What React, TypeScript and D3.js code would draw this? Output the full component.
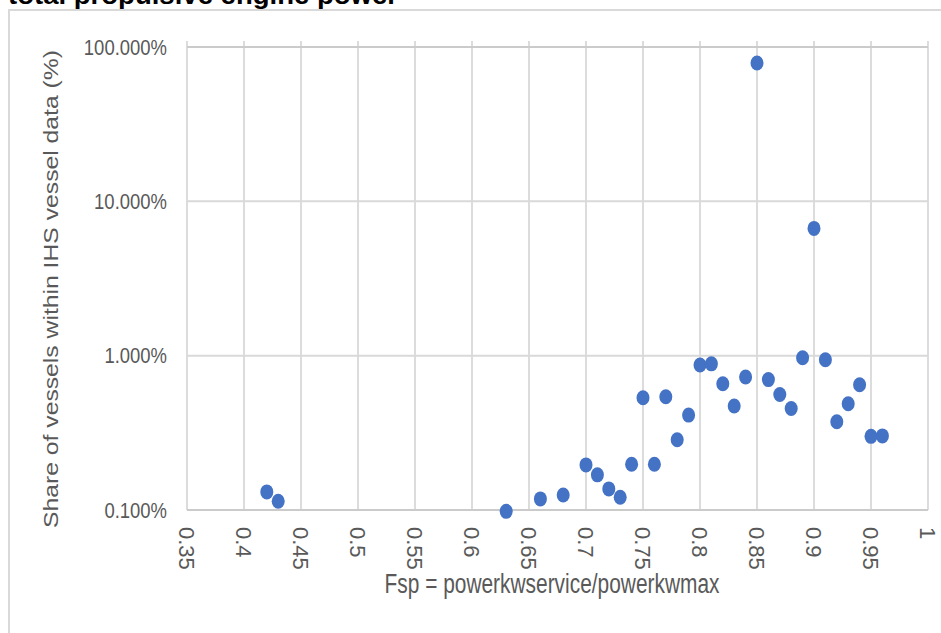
import * as d3 from "d3";
import { useEffect, useRef } from "react";

// Fsp values (x) and share of vessels in % (y)
const fsp = [
  0.42, 0.43, 0.63, 0.66, 0.68, 0.7, 0.71, 0.72, 0.73, 0.74, 0.75, 0.76, 0.77,
  0.78, 0.79, 0.8, 0.81, 0.82, 0.83, 0.84, 0.85, 0.86, 0.87, 0.88, 0.89, 0.9,
  0.91, 0.92, 0.93, 0.94, 0.95, 0.96,
];
const share = [
  0.131, 0.114, 0.098, 0.118, 0.125, 0.196, 0.169, 0.137, 0.121, 0.198, 0.534,
  0.198, 0.542, 0.285, 0.412, 0.87, 0.885, 0.658, 0.472, 0.728, 78.7, 0.7,
  0.56, 0.455, 0.97, 6.68, 0.94, 0.373, 0.488, 0.648, 0.3, 0.302,
];
const xTicks = [0.35, 0.4, 0.45, 0.5, 0.55, 0.6, 0.65, 0.7, 0.75, 0.8, 0.85, 0.9, 0.95, 1];
const yTicks = [0.1, 1, 10, 100];

const title = "total propulsive engine power";
const xTitle = "Fsp = powerkwservice/powerkwmax";
const yTitle = "Share of vessels within IHS vessel data (%)";

export default function App() {
  const ref = useRef<SVGSVGElement>(null);

  useEffect(() => {
    const width = 941;
    const height = 633;
    const left = 187, right = 928, top = 47, bottom = 510;
    const grey = "#595959";

    d3.select(ref.current).selectAll("*").remove();
    const svg = d3.select(ref.current).attr("width", width).attr("height", height);

    svg.append("rect").attr("width", width).attr("height", height).attr("fill", "#fff");

    // outer chart frame (cut off at right/bottom)
    svg.append("rect")
      .attr("x", 9).attr("y", 10)
      .attr("width", width + 20).attr("height", height + 20)
      .attr("fill", "none").attr("stroke", "#d9d9d9").attr("stroke-width", 2);

    // title, cut off at the top of the picture
    svg.append("text")
      .attr("x", 8).attr("y", 4)
      .attr("font-family", "Liberation Sans, Arial, sans-serif")
      .attr("font-weight", "bold").attr("font-size", 25)
      .attr("textLength", 390).attr("lengthAdjust", "spacingAndGlyphs")
      .attr("fill", "#000")
      .text(title);

    const x = d3.scaleLinear().domain([0.35, 1]).range([left, right]);
    const y = d3.scaleLog().domain([0.1, 100]).range([bottom, top]);

    /* ---------------- GRID ---------------- */
    svg.selectAll("line.vgrid")
      .data(xTicks)
      .enter()
      .append("line")
      .attr("class", "vgrid")
      .attr("x1", d => x(d)).attr("x2", d => x(d))
      .attr("y1", top - 6).attr("y2", bottom)
      .attr("stroke", "#dcdcdc").attr("stroke-width", 2);

    svg.selectAll("line.hgrid")
      .data(yTicks)
      .enter()
      .append("line")
      .attr("class", "hgrid")
      .attr("x1", left).attr("x2", right)
      .attr("y1", d => y(d)).attr("y2", d => y(d))
      .attr("stroke", d => (d === 0.1 || d === 100 ? "#cbcbcb" : "#d9d9d9"))
      .attr("stroke-width", 2);

    /* ---------------- TICK LABELS ---------------- */
    svg.selectAll("g.ylab")
      .data(yTicks)
      .enter()
      .append("g")
      .attr("class", "ylab")
      .attr("transform", d => `translate(167, ${y(d)}) scale(0.84, 1)`)
      .append("text")
      .attr("text-anchor", "end")
      .attr("dy", "0.35em")
      .attr("font-family", "Liberation Sans, Arial, sans-serif")
      .attr("font-size", 22)
      .attr("fill", grey)
      .text(d => d3.format(".3%")(d / 100));

    svg.selectAll("text.xlab")
      .data(xTicks)
      .enter()
      .append("text")
      .attr("class", "xlab")
      .attr("transform", d => `translate(${x(d)}, 527) rotate(90)`)
      .attr("dy", "0.35em")
      .attr("font-family", "Liberation Sans, Arial, sans-serif")
      .attr("font-size", 22)
      .attr("fill", grey)
      .text(d => String(d));

    /* ---------------- AXIS TITLES ---------------- */
    svg.append("text")
      .attr("x", 552).attr("y", 593)
      .attr("text-anchor", "middle")
      .attr("font-family", "Liberation Sans, Arial, sans-serif")
      .attr("font-size", 27)
      .attr("textLength", 335).attr("lengthAdjust", "spacingAndGlyphs")
      .attr("fill", grey)
      .text(xTitle);

    svg.append("text")
      .attr("transform", "translate(58, 289) rotate(-90)")
      .attr("text-anchor", "middle")
      .attr("font-family", "Liberation Sans, Arial, sans-serif")
      .attr("font-size", 21)
      .attr("textLength", 478).attr("lengthAdjust", "spacingAndGlyphs")
      .attr("fill", grey)
      .text(yTitle);

    /* ---------------- POINTS ---------------- */
    const points = fsp.map((f, i) => ({ f, s: share[i] }));
    svg.selectAll("ellipse.pt")
      .data(points)
      .enter()
      .append("ellipse")
      .attr("class", "pt")
      .attr("cx", d => x(d.f))
      .attr("cy", d => y(d.s))
      .attr("rx", 6.5).attr("ry", 7.5)
      .attr("fill", "#4472c4");
  }, []);

  return (
    <div style={{ position: "absolute", left: 0, top: 0 }}>
      <svg ref={ref} style={{ display: "block" }} />
    </div>
  );
}
